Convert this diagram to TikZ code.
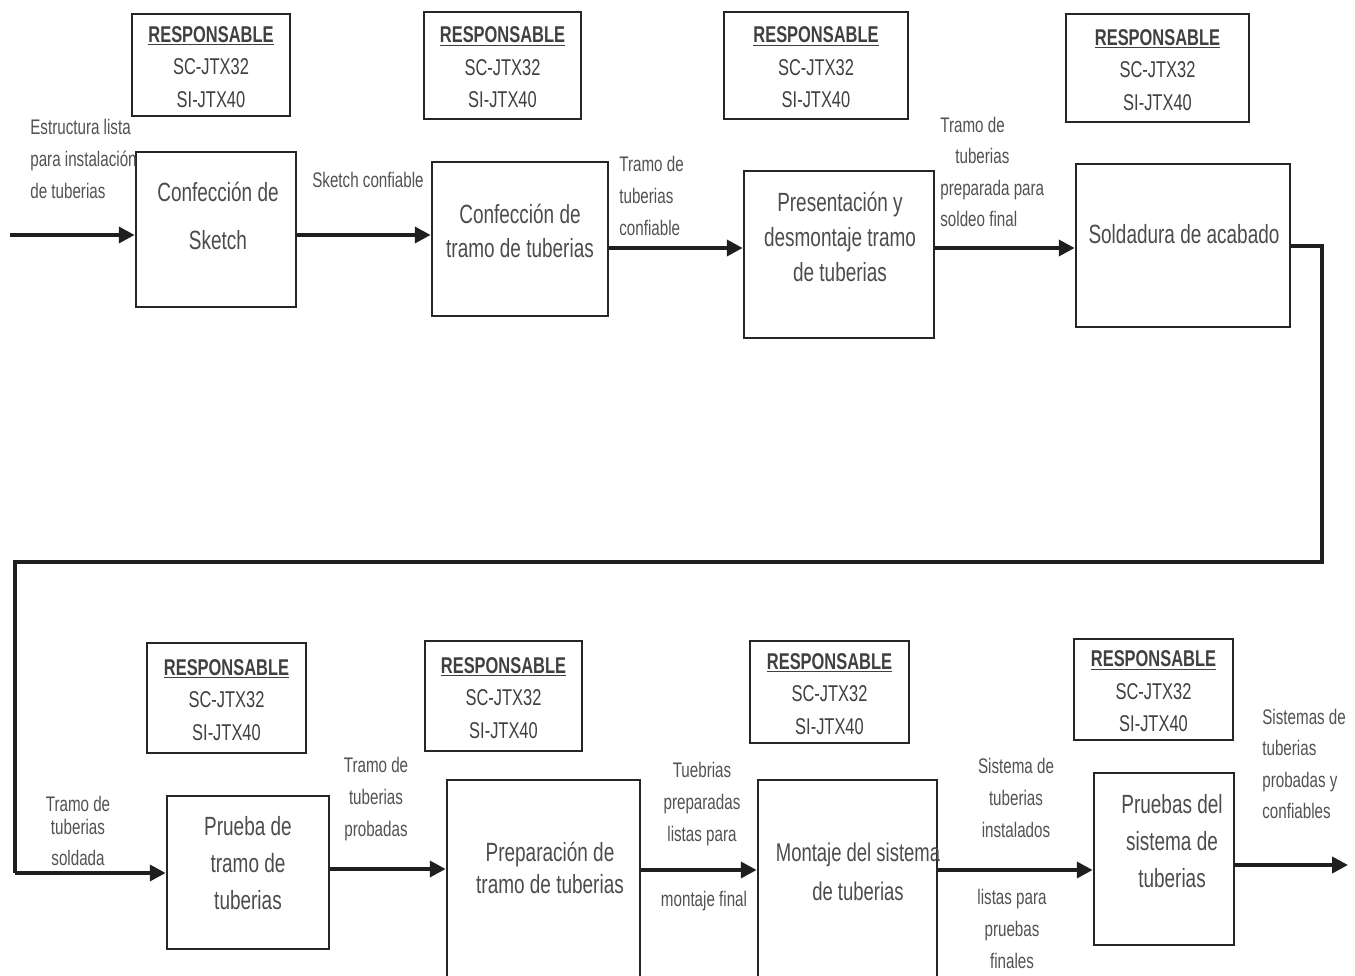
\documentclass[tikz,border=0pt]{standalone}
\usepackage{fontspec}
\setmainfont[FakeStretch=0.72]{Liberation Sans}
\usetikzlibrary{arrows.meta,fit}

\begin{document}
\begin{tikzpicture}[x=0.02cm,y=-0.02cm,
  box/.style={draw=black!85, line width=1.5pt, inner sep=0pt},
  resp/.style={draw=black!85, line width=1.4pt, inner sep=0pt},
  resptext/.style={align=center, text=black!75, inner sep=0pt,
    font=\fontsize{13}{18.5}\selectfont},
  maintext/.style={text=black!70, align=center, font=\fontsize{15}{19}\selectfont},
  lbl/.style={text=black!68, font=\fontsize{12}{18}\selectfont, inner sep=0pt},
  flow/.style={draw=black!88, line width=2.2pt, -{Triangle[length=9pt,width=9pt]}},
  route/.style={draw=black!88, line width=1.8pt},
]
\useasboundingbox[fill=white] (0,0) rectangle (1355,976);

% responsible boxes, upper row
\node[resp, fit={(132,14) (290,116)}] (r1) {};
\node[resp, fit={(424,12) (581,119)}] (r2) {};
\node[resp, fit={(724,12) (908,119)}] (r3) {};
\node[resp, fit={(1066,14) (1249,122)}] (r4) {};

% responsible boxes, lower row
\node[resp, fit={(147,643) (306,753)}] (r5) {};
\node[resp, fit={(425,641) (582,751)}] (r6) {};
\node[resp, fit={(750,641) (909,743)}] (r7) {};
\node[resp, fit={(1074,639) (1233,740)}] (r8) {};

% their contents
\foreach \r in {r1,r2,r3,r4,r5,r6,r7,r8}
  \node[resptext] (\r t) at ([yshift=-1pt]\r.center)
    {\underline{\textbf{RESPONSABLE}}\\SC-JTX32\\SI-JTX40};

% process boxes
\node[box, fit={(136,152) (296,307)}] (b1) {};
\node[box, fit={(432,162) (608,316)}] (b2) {};
\node[box, fit={(744,171) (934,338)}] (b3) {};
\node[box, fit={(1076,164) (1290,327)}] (b4) {};
\node[box, fit={(167,796) (329,949)}] (b5) {};
\node[box, fit={(447,780) (640,990)}] (b6) {};
\node[box, fit={(758,780) (937,990)}] (b7) {};
\node[box, fit={(1094,773) (1234,945)}] (b8) {};

% process texts
\node[maintext, font=\fontsize{15}{27}\selectfont] (t1) at (218,216) {Confección de\\Sketch};
\node[maintext] (t2) at (520,231) {Confección de\\tramo de tuberias};
\node[maintext, font=\fontsize{15}{20}\selectfont] (t3) at (840,237) {Presentación y\\desmontaje tramo\\de tuberias};
\node[maintext] (t4) at (1184,234) {Soldadura de acabado};
\node[maintext, font=\fontsize{15}{21}\selectfont] (t5) at (248,863) {Prueba de\\tramo de\\tuberias};
\node[maintext, font=\fontsize{15}{18}\selectfont] (t6) at (550,868) {Preparación de\\tramo de tuberias};
\node[maintext, font=\fontsize{14.6}{22.5}\selectfont] (t7) at (858,872) {Montaje del sistema\\de tuberias};
\node[maintext, font=\fontsize{15}{21}\selectfont] (t8) at (1172,841) {Pruebas del\\sistema de\\tuberias};

% arrow levels
\coordinate (in0) at (10,235);
\coordinate (ya) at (0,235);
\coordinate (yb) at (0,248);
\coordinate (yc) at (0,246);
\coordinate (k1) at (1322,246);
\coordinate (k2) at (1322,562);
\coordinate (k3) at (15,562);
\coordinate (k4) at (15,873);
\coordinate (yd) at (0,869);
\coordinate (ye) at (0,870);
\coordinate (yf) at (0,865);
\coordinate (out0) at (1348,865);

% connectors, upper row
\draw[flow] (in0) -- (in0 -| b1.west);
\draw[flow] (b1.east |- ya) -- (b2.west |- ya);
\draw[flow] (b2.east |- yb) -- (b3.west |- yb);
\draw[flow] (b3.east |- yb) -- (b4.west |- yb);
% return line to the lower row
\draw[route] (b4.east |- yc) -- (k1) -- (k2) -- (k3) -- (k4);
\draw[flow] (k4) -- (k4 -| b5.west);
% connectors, lower row
\draw[flow] (b5.east |- yd) -- (b6.west |- yd);
\draw[flow] (b6.east |- ye) -- (b7.west |- ye);
\draw[flow] (b7.east |- ye) -- (b8.west |- ye);
\draw[flow] (b8.east |- yf) -- (out0);

% connector labels
\node[lbl, anchor=west, align=left] (l0) at (30,159) {Estructura lista\\para instalación\\de tuberias};
\node[lbl] (l1) at (368,180) {Sketch confiable};
\node[lbl, anchor=west, align=left] (l2) at (619,196) {Tramo de\\tuberias\\confiable};
\node[lbl, anchor=west, align=left] (l3) at (940,172) {Tramo de\\\hspace*{0.3cm}tuberias\\preparada para\\soldeo final};
\node[lbl, align=center] (l4) at (78,831) {Tramo de\\[-5pt]tuberias\\soldada};
\node[lbl, align=center] (l5) at (376,799) {Tramo de\\tuberias\\probadas};
\node[lbl, align=center] (l6) at (702,804) {Tuebrias\\preparadas\\listas para};
\node[lbl] (l6b) at (704,901) {montaje final};
\node[lbl, align=center] (l7) at (1016,798) {Sistema de\\tuberias\\instalados};
\node[lbl, align=center] (l7b) at (1012,929) {listas para\\pruebas\\finales};
\node[lbl, anchor=west, align=left] (l8) at (1262,764) {Sistemas de\\tuberias\\probadas y\\confiables};
\end{tikzpicture}
\end{document}
